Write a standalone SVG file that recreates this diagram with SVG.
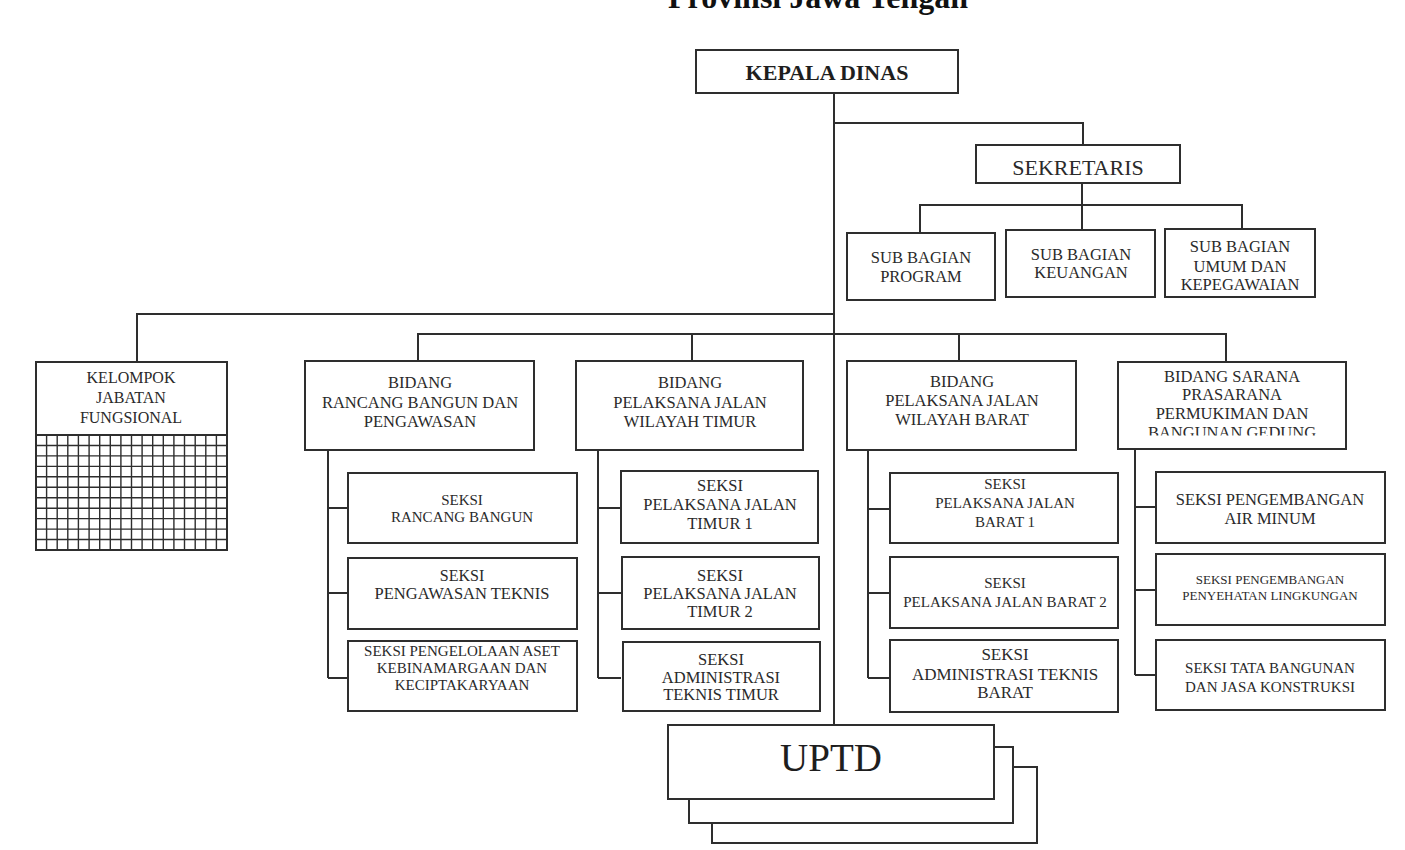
<svg xmlns="http://www.w3.org/2000/svg" width="1405" height="850" viewBox="0 0 1405 850">
<defs>
<style>
.box{fill:#fff;stroke:#2e2e2e;stroke-width:2}
.conn{fill:none;stroke:#2e2e2e;stroke-width:2}
.grid{fill:none;stroke:#2e2e2e;stroke-width:1.4}
text{font-family:"Liberation Serif","Times New Roman",serif;fill:#2a2a2a;text-anchor:middle}
.f13{font-size:13px}
.f15{font-size:15px}
.f16{font-size:16px}
.f165{font-size:16.5px}
.f17{font-size:17px}
.f22{font-size:22px}
.b22{font-size:22px;font-weight:bold;fill:#1e1e1e}
.title{font-size:32px;font-weight:bold;fill:#111}
.uptd{font-size:39px;fill:#1e1e1e}
</style>
<clipPath id="clipB4"><rect x="1118" y="362" width="228" height="73.5"/></clipPath>
</defs>
<rect x="0" y="0" width="1405" height="850" fill="#fff"/>
<text class="title" x="818" y="8">Provinsi Jawa Tengah</text>

<g id="connectors">
<path class="conn" d="M834 93V725"/>
<path class="conn" d="M834 123H1083V145"/>
<path class="conn" d="M1082 183V230M920 233V205H1242V229"/>
<path class="conn" d="M137 362V314H834"/>
<path class="conn" d="M418 361V334H1226V362M692 334V361M959 334V361"/>
<path class="conn" d="M328 450V678M328 508H348M328 593H348M328 678H348"/>
<path class="conn" d="M598 450V678M598 508H621M598 593H621M598 678H621"/>
<path class="conn" d="M868 450V678M868 509H890M868 593H890M868 678H890"/>
<path class="conn" d="M1135 449V675M1135 507H1156M1135 590H1156M1135 675H1156"/>
</g>

<g id="kepala-dinas">
<rect class="box" x="696" y="50" width="262" height="43"/>
<text class="b22" x="827" y="80">KEPALA DINAS</text>
</g>

<g id="sekretaris">
<rect class="box" x="976" y="145" width="204" height="38"/>
<text class="f22" x="1078" y="175">SEKRETARIS</text>
</g>

<g id="sub-program">
<rect class="box" x="847" y="233" width="148" height="67"/>
<text class="f165" x="921" y="263">SUB BAGIAN</text>
<text class="f165" x="921" y="282">PROGRAM</text>
</g>
<g id="sub-keuangan">
<rect class="box" x="1006" y="230" width="149" height="67"/>
<text class="f165" x="1081" y="260">SUB BAGIAN</text>
<text class="f165" x="1081" y="278">KEUANGAN</text>
</g>
<g id="sub-umum">
<rect class="box" x="1165" y="229" width="150" height="68"/>
<text class="f165" x="1240" y="252">SUB BAGIAN</text>
<text class="f165" x="1240" y="272">UMUM DAN</text>
<text class="f165" x="1240" y="290">KEPEGAWAIAN</text>
</g>

<g id="kelompok-jabatan">
<rect class="box" x="36" y="362" width="191" height="188"/>
<path class="grid" d="M46.6 435V550M57.2 435V550M67.8 435V550M78.4 435V550M89.1 435V550M99.7 435V550M110.3 435V550M120.9 435V550M131.5 435V550M142.1 435V550M152.7 435V550M163.3 435V550M173.9 435V550M184.5 435V550M195.2 435V550M205.8 435V550M216.4 435V550M36 445.5H227M36 455.9H227M36 466.4H227M36 476.8H227M36 487.3H227M36 497.7H227M36 508.2H227M36 518.6H227M36 529.1H227M36 539.5H227"/>
<path class="conn" d="M36 435H227"/>
<text class="f16" x="131" y="383">KELOMPOK</text>
<text class="f16" x="131" y="403">JABATAN</text>
<text class="f16" x="131" y="423">FUNGSIONAL</text>
</g>

<g id="bidang-rancang">
<rect class="box" x="305" y="361" width="229" height="89"/>
<text class="f165" x="420" y="388">BIDANG</text>
<text class="f165" x="420" y="408">RANCANG BANGUN DAN</text>
<text class="f165" x="420" y="427">PENGAWASAN</text>
</g>
<g id="bidang-timur">
<rect class="box" x="576" y="361" width="227" height="89"/>
<text class="f165" x="690" y="388">BIDANG</text>
<text class="f165" x="690" y="408">PELAKSANA JALAN</text>
<text class="f165" x="690" y="427">WILAYAH TIMUR</text>
</g>
<g id="bidang-barat">
<rect class="box" x="847" y="361" width="229" height="89"/>
<text class="f165" x="962" y="387">BIDANG</text>
<text class="f165" x="962" y="406">PELAKSANA JALAN</text>
<text class="f165" x="962" y="425">WILAYAH BARAT</text>
</g>
<g id="bidang-sarana">
<rect class="box" x="1118" y="362" width="228" height="87"/>
<text class="f165" x="1232" y="382">BIDANG SARANA</text>
<text class="f165" x="1232" y="400">PRASARANA</text>
<text class="f165" x="1232" y="419">PERMUKIMAN DAN</text>
<text class="f165" x="1232" y="438" clip-path="url(#clipB4)">BANGUNAN GEDUNG</text>
</g>

<g id="seksi-rancang-bangun">
<rect class="box" x="348" y="473" width="229" height="70"/>
<text class="f15" x="462" y="505">SEKSI</text>
<text class="f15" x="462" y="522">RANCANG BANGUN</text>
</g>
<g id="seksi-pengawasan">
<rect class="box" x="348" y="558" width="229" height="71"/>
<text class="f16" x="462" y="581">SEKSI</text>
<text class="f165" x="462" y="599">PENGAWASAN TEKNIS</text>
</g>
<g id="seksi-aset">
<rect class="box" x="348" y="641" width="229" height="70"/>
<text class="f15" x="462" y="656">SEKSI PENGELOLAAN ASET</text>
<text class="f15" x="462" y="673">KEBINAMARGAAN DAN</text>
<text class="f15" x="462" y="690">KECIPTAKARYAAN</text>
</g>

<g id="seksi-timur-1">
<rect class="box" x="621" y="471" width="197" height="72"/>
<text class="f165" x="720" y="491">SEKSI</text>
<text class="f165" x="720" y="510">PELAKSANA JALAN</text>
<text class="f165" x="720" y="529">TIMUR 1</text>
</g>
<g id="seksi-timur-2">
<rect class="box" x="622" y="557" width="197" height="72"/>
<text class="f165" x="720" y="581">SEKSI</text>
<text class="f165" x="720" y="599">PELAKSANA JALAN</text>
<text class="f165" x="720" y="617">TIMUR 2</text>
</g>
<g id="seksi-adm-timur">
<rect class="box" x="623" y="642" width="197" height="69"/>
<text class="f165" x="721" y="665">SEKSI</text>
<text class="f165" x="721" y="683">ADMINISTRASI</text>
<text class="f165" x="721" y="700">TEKNIS TIMUR</text>
</g>

<g id="seksi-barat-1">
<rect class="box" x="890" y="473" width="228" height="70"/>
<text class="f15" x="1005" y="489">SEKSI</text>
<text class="f15" x="1005" y="508">PELAKSANA JALAN</text>
<text class="f15" x="1005" y="527">BARAT 1</text>
</g>
<g id="seksi-barat-2">
<rect class="box" x="890" y="557" width="228" height="71"/>
<text class="f15" x="1005" y="588">SEKSI</text>
<text class="f15" x="1005" y="607">PELAKSANA JALAN BARAT 2</text>
</g>
<g id="seksi-adm-barat">
<rect class="box" x="890" y="640" width="228" height="72"/>
<text class="f17" x="1005" y="660">SEKSI</text>
<text class="f17" x="1005" y="680">ADMINISTRASI TEKNIS</text>
<text class="f17" x="1005" y="698">BARAT</text>
</g>

<g id="seksi-air-minum">
<rect class="box" x="1156" y="472" width="229" height="71"/>
<text class="f165" x="1270" y="505">SEKSI PENGEMBANGAN</text>
<text class="f165" x="1270" y="524">AIR MINUM</text>
</g>
<g id="seksi-penyehatan">
<rect class="box" x="1156" y="554" width="229" height="71"/>
<text class="f13" x="1270" y="584">SEKSI PENGEMBANGAN</text>
<text class="f13" x="1270" y="600">PENYEHATAN LINGKUNGAN</text>
</g>
<g id="seksi-tata-bangunan">
<rect class="box" x="1156" y="640" width="229" height="70"/>
<text class="f15" x="1270" y="673">SEKSI TATA BANGUNAN</text>
<text class="f15" x="1270" y="692">DAN JASA KONSTRUKSI</text>
</g>

<g id="uptd">
<rect class="box" x="712" y="767" width="325" height="76"/>
<rect class="box" x="689" y="747" width="324" height="76"/>
<rect class="box" x="668" y="725" width="326" height="74"/>
<text class="uptd" x="831" y="771">UPTD</text>
</g>
</svg>
